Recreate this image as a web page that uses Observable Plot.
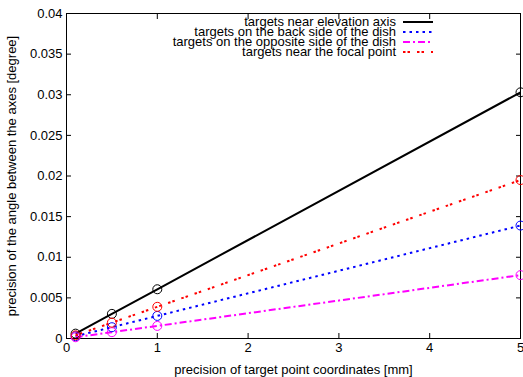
<!DOCTYPE html>
<html><head><meta charset="utf-8">
<script src="https://cdn.jsdelivr.net/npm/d3@7"></script>
<script src="https://cdn.jsdelivr.net/npm/@observablehq/plot@0.6"></script>
<style>
body{margin:0;background:#fff;font-family:"Liberation Sans",Arial,sans-serif;}
#wrap{position:relative;width:523px;height:377px;}
#legend{position:absolute;left:0;top:0;font-size:13px;color:#000;}
.row{position:absolute;display:flex;align-items:center;height:10px;}
.row span{display:block;width:331px;text-align:right;line-height:10px;white-space:nowrap;}
.row svg{margin-left:7px;}
</style></head>
<body><div id="wrap"><div id="chart"></div><div id="legend"></div></div>
<script>
const xs = [0.1, 0.5, 1, 5];
const seriesNames = [
  "targets near elevation axis",
  "targets on the back side of the dish",
  "targets on the opposite side of the dish",
  "targets near the focal point"
];
const elevation = [0.0006, 0.00303, 0.00606, 0.0303];
const backSide = [0.00028, 0.00139, 0.00278, 0.0139];
const opposite = [0.000155, 0.00078, 0.00155, 0.0078];
const focal = [0.00039, 0.00195, 0.0039, 0.0195];
const xTicks = [0, 1, 2, 3, 4, 5];
const yTicks = [0, 0.005, 0.01, 0.015, 0.02, 0.025, 0.03, 0.035, 0.04];
const yTickLabels = ["0", "0.005", "0.01", "0.015", "0.02", "0.025", "0.03", "0.035", "0.04"];

const colors = ["#000000", "#0000ff", "#ff00ff", "#ff0000"];
const dashes = [null, "2.5,4", "7,3,2,3", "2.5,2,2.5,7"];
const values = [elevation, backSide, opposite, focal];

const data = [];
values.forEach((vals, si) => vals.forEach((v, i) => data.push({series: seriesNames[si], x: xs[i], y: v, si})));

const lineMarks = values.map((vals, si) => Plot.line(data.filter(d => d.si === si), {
  x: "x", y: "y", stroke: colors[si], strokeWidth: 2, strokeDasharray: dashes[si], strokeLinecap: "butt"
}));
const dotMarks = values.map((vals, si) => Plot.dot(data.filter(d => d.si === si), {
  x: "x", y: "y", r: 4.5, stroke: colors[si], strokeWidth: 1, fill: "none"
}));

const chart = Plot.plot({
  width: 523, height: 377,
  marginLeft: 66, marginRight: 3, marginTop: 13, marginBottom: 39,
  style: {fontFamily: "Liberation Sans, Arial, sans-serif", fontSize: "13px", color: "#000", background: "#fff"},
  x: {domain: [0, 5]},
  y: {domain: [0, 0.04]},
  marks: [
    Plot.frame({stroke: "#000", strokeWidth: 1}),
    Plot.axisX(xTicks, {anchor: "bottom", tickSize: -5, text: null, label: null}),
    Plot.axisX(xTicks, {anchor: "top", tickSize: -5, text: null, label: null}),
    Plot.axisY(yTicks, {anchor: "left", tickSize: -5, text: null, label: null}),
    Plot.axisY(yTicks, {anchor: "right", tickSize: -5, text: null, label: null}),
    Plot.axisX(xTicks, {anchor: "bottom", tickSize: 0, tickPadding: 4, fontSize: 13, label: "precision of target point coordinates [mm]", labelAnchor: "center", labelOffset: 35, labelArrow: "none"}),
    Plot.axisY(yTicks, {anchor: "left", tickSize: 0, tickPadding: 4, fontSize: 13, tickFormat: (d, i) => yTickLabels[i], label: "precision of the angle between the axes [degree]", labelAnchor: "center", labelOffset: 60, labelArrow: "none"}),
    ...lineMarks,
    ...dotMarks
  ]
});
document.getElementById("chart").appendChild(chart);

const legend = document.getElementById("legend");
seriesNames.forEach((name, i) => {
  const row = document.createElement("div");
  row.className = "row";
  row.style.left = "65px";
  row.style.top = (17 + i * 10) + "px";
  const span = document.createElement("span");
  span.textContent = name;
  row.appendChild(span);
  const ns = "http://www.w3.org/2000/svg";
  const svg = document.createElementNS(ns, "svg");
  svg.setAttribute("width", 31); svg.setAttribute("height", 10);
  const ln = document.createElementNS(ns, "line");
  ln.setAttribute("x1", 0); ln.setAttribute("x2", 30); ln.setAttribute("y1", 5); ln.setAttribute("y2", 5);
  ln.setAttribute("stroke", colors[i]); ln.setAttribute("stroke-width", 2);
  if (dashes[i]) ln.setAttribute("stroke-dasharray", dashes[i]);
  svg.appendChild(ln);
  row.appendChild(svg);
  legend.appendChild(row);
});
</script></body></html>
